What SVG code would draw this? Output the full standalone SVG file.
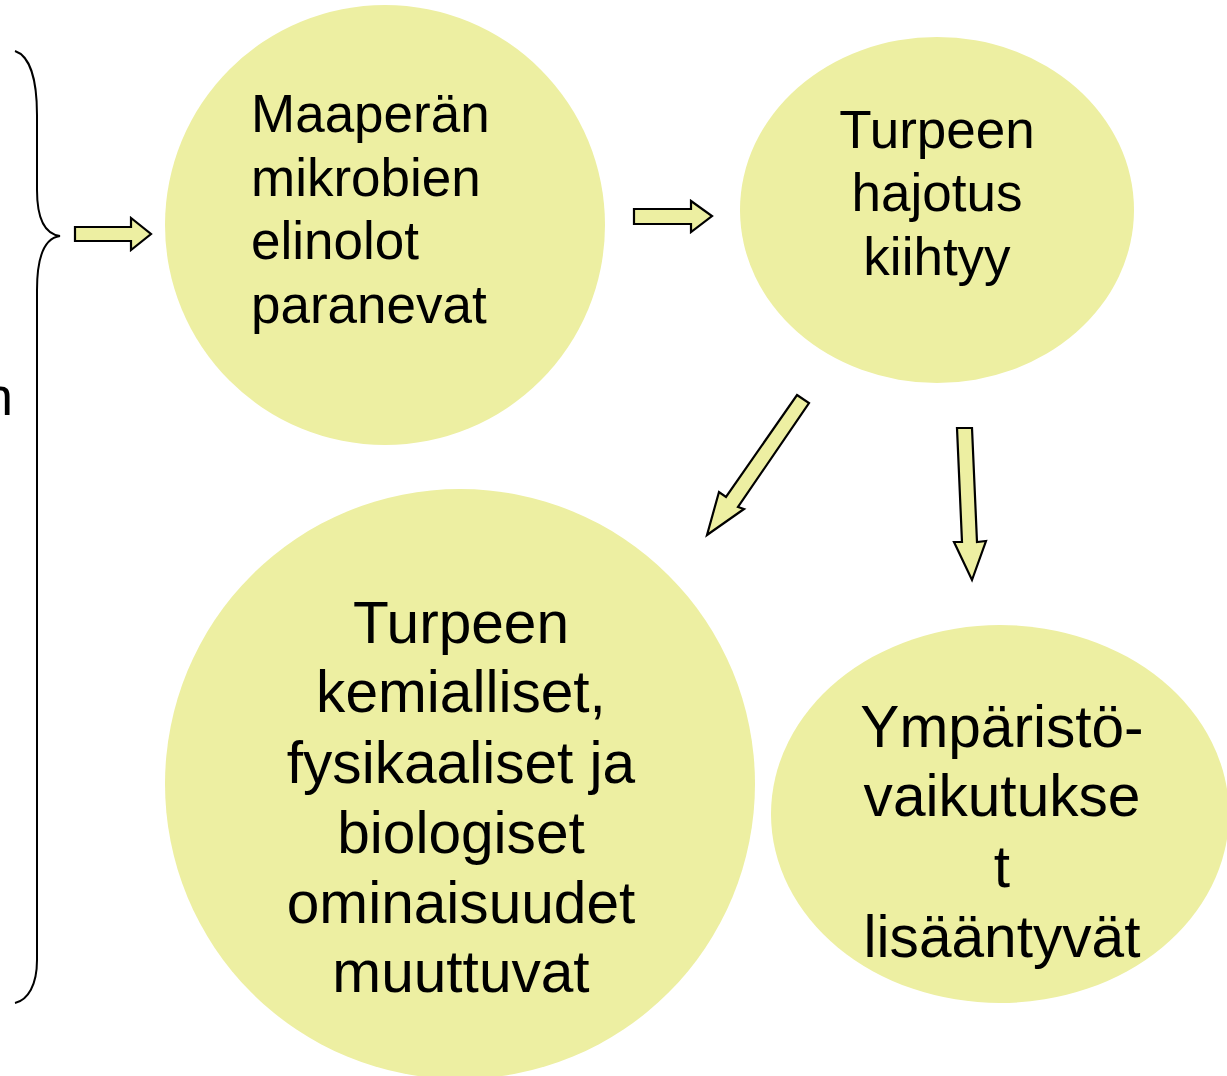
<svg xmlns="http://www.w3.org/2000/svg" width="1227" height="1076" viewBox="0 0 1227 1076">
<style>
.node{fill:#EDEFA2;}
.arrow{fill:#EDEFA2;stroke:#000;stroke-width:2.2;stroke-linejoin:miter;}
.t{font-family:"Liberation Sans",Arial,sans-serif;fill:#000;}
.s52{font-size:53px;}
.s58{font-size:58.6px;}
</style>
<rect width="1227" height="1076" fill="#fff"/>
<text class="t s52" x="13" y="415" text-anchor="end">n</text>
<path d="M15,51 C30,56 37,80 37,115 L37,190 C37,220 45,234 60,236 C45,238 37,255 37,290 L37,960 C37,985 28,1000 15,1003" fill="none" stroke="#000" stroke-width="2"/>
<g id="node1">
<circle class="node" cx="385" cy="225" r="220"/>
<text class="t s52" x="251"><tspan x="251" y="132">Maaperän</tspan><tspan x="251" y="196">mikrobien</tspan><tspan x="251" y="259">elinolot</tspan><tspan x="251" y="323">paranevat</tspan></text>
</g>
<g id="node2">
<ellipse class="node" cx="937" cy="210" rx="197" ry="173"/>
<text class="t s52" text-anchor="middle"><tspan x="937" y="148">Turpeen</tspan><tspan x="937" y="211">hajotus</tspan><tspan x="937" y="275">kiihtyy</tspan></text>
</g>
<g id="node3">
<circle class="node" cx="460" cy="784" r="295"/>
<text class="t s58" text-anchor="middle"><tspan x="461" y="643">Turpeen</tspan><tspan x="461" y="712">kemialliset,</tspan><tspan x="461" y="783">fysikaaliset ja</tspan><tspan x="461" y="853">biologiset</tspan><tspan x="461" y="923">ominaisuudet</tspan><tspan x="461" y="992">muuttuvat</tspan></text>
</g>
<g id="node4">
<ellipse class="node" cx="1000" cy="814" rx="229" ry="189"/>
<text class="t s58" text-anchor="middle"><tspan x="1002" y="747">Ympäristö-</tspan><tspan x="1002" y="816">vaikutukse</tspan><tspan x="1002" y="887">t</tspan><tspan x="1002" y="957">lisääntyvät</tspan></text>
</g>
<g id="connectors">
<polygon class="arrow" points="75,227 131,227 131,218 151,234 131,250 131,241 75,241"/>
<polygon class="arrow" points="634,209 691,209 691,201 712,216 691,232 691,224 634,224"/>
<polygon class="arrow" points="797,395 809,403 738,507 744,509 707,535 719,492 726,497"/>
<polygon class="arrow" points="957,428 972,428 977,542 986,541 972,580 954,542 962,542"/>
</g>
</svg>
